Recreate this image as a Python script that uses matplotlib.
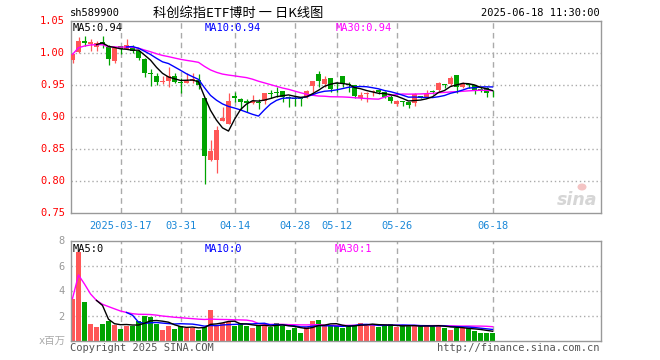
import numpy as np
import pandas as pd
import matplotlib
matplotlib.use('Agg')
import matplotlib.pyplot as plt
from matplotlib.patches import Ellipse

plt.rcParams['lines.scale_dashes'] = False

# ---------------- data ----------------
tick_idx = [8, 18, 27, 37, 44, 54, 70]
tick_labels = ['2025-03-17', '03-31', '04-14', '04-28', '05-12', '05-26', '06-18']

opens = [0.989, 1.001, 1.018, 1.014, 1.008, 1.0165, 1.009, 0.986, 1.010, 1.0056,
         1.0066, 1.002, 0.990, 0.9686, 0.9634, 0.9546, 0.9561, 0.9634, 0.9546, 0.953,
         0.9561, 0.9572, 0.9285, 0.8321, 0.8321, 0.8931, 0.8884, 0.9321, 0.928, 0.9243,
         0.9207, 0.9233, 0.9243, 0.9374, 0.9384, 0.940, 0.9311, 0.9285, 0.9285, 0.9311,
         0.9478, 0.9665, 0.9504, 0.9598, 0.952, 0.9634, 0.9504, 0.9493, 0.9285, 0.9353,
         0.9384, 0.9415, 0.9389, 0.9311, 0.9196, 0.9249, 0.9222, 0.9207, 0.9327, 0.9285,
         0.9389, 0.9415, 0.951, 0.9504, 0.965, 0.9467, 0.9499, 0.9493, 0.9426, 0.9441,
         0.9374]
highs = [0.999, 1.025, 1.026, 1.021, 1.018, 1.0264, 1.012, 1.008, 1.010, 1.021,
         1.011, 1.004, 0.991, 0.974, 0.9686, 0.9634, 0.977, 0.9686, 0.960, 0.9686,
         0.9686, 0.9665, 0.9285, 0.8634, 0.8853, 0.9155, 0.9374, 0.9389, 0.9295, 0.928,
         0.9337, 0.928, 0.9374, 0.9415, 0.9457, 0.940, 0.9321, 0.9321, 0.9285, 0.9415,
         0.9556, 0.9712, 0.9634, 0.9598, 0.9546, 0.9634, 0.9546, 0.9493, 0.9389, 0.9389,
         0.9415, 0.9426, 0.940, 0.9337, 0.9259, 0.9249, 0.9233, 0.9363, 0.9327, 0.9415,
         0.9415, 0.9535, 0.951, 0.964, 0.965, 0.9535, 0.951, 0.9493, 0.9457, 0.9457,
         0.9415]
lows = [0.984, 1.000, 1.010, 1.003, 1.003, 1.0066, 0.981, 0.984, 0.997, 1.0056,
        0.999, 0.988, 0.962, 0.948, 0.949, 0.951, 0.9467, 0.953, 0.9374, 0.952,
        0.953, 0.9426, 0.7946, 0.8306, 0.8123, 0.8931, 0.8884, 0.9233, 0.9103, 0.9077,
        0.9196, 0.9113, 0.9196, 0.9285, 0.9311, 0.9233, 0.9155, 0.9165, 0.9165, 0.9285,
        0.9389, 0.9467, 0.9467, 0.9389, 0.9389, 0.9467, 0.9389, 0.9295, 0.9259, 0.9233,
        0.9327, 0.9347, 0.9285, 0.9207, 0.9165, 0.9165, 0.9139, 0.9165, 0.9285, 0.9285,
        0.9347, 0.9379, 0.9452, 0.9478, 0.9374, 0.9452, 0.9441, 0.9347, 0.9389, 0.9311,
        0.9311]
closes = [0.997, 1.018, 1.0155, 1.0165, 1.0145, 1.011, 0.9905, 1.007, 1.0056, 1.011,
          1.003, 0.992, 0.9686, 0.966, 0.9546, 0.9561, 0.9634, 0.9546, 0.953, 0.9561,
          0.9582, 0.9493, 0.8384, 0.8462, 0.879, 0.8983, 0.9243, 0.9295, 0.9233, 0.9217,
          0.9243, 0.9217, 0.9374, 0.9353, 0.9363, 0.9311, 0.9285, 0.9269, 0.9269, 0.940,
          0.9556, 0.9556, 0.9582, 0.9426, 0.9504, 0.951, 0.9493, 0.9327, 0.9337, 0.9363,
          0.940, 0.9384, 0.9311, 0.9249, 0.9249, 0.9222, 0.918, 0.9347, 0.9285, 0.9347,
          0.9379, 0.952, 0.950, 0.9598, 0.9467, 0.9504, 0.9493, 0.9405, 0.9405, 0.9363,
          0.9363]
volumes = [3.36, 7.12, 3.07, 1.36, 1.12, 1.36, 1.6, 1.28, 0.96, 1.2,
           1.15, 1.6, 2.0, 1.92, 1.33, 0.88, 1.2, 0.96, 1.2, 1.01,
           1.01, 0.88, 1.07, 2.48, 1.2, 1.41, 1.47, 1.15, 1.44, 1.15,
           1.04, 1.2, 1.28, 1.12, 1.44, 1.2, 0.88, 0.99, 0.64, 1.07,
           1.6, 1.68, 1.15, 1.15, 1.15, 0.99, 1.28, 1.28, 1.44, 1.2,
           1.36, 1.07, 1.17, 1.36, 1.07, 1.17, 1.15, 1.2, 1.15, 1.15,
           1.15, 1.28, 0.99, 0.88, 0.99, 0.99, 0.99, 0.8, 0.64, 0.64,
           0.64]

price_ticks = [0.75, 0.80, 0.85, 0.90, 0.95, 1.00, 1.05]
vol_ticks = [2, 4, 6, 8]

# ---------------- styling ----------------
RED = '#FF5656'
GREEN = '#00A300'
GRID = '#AAAAAA'
FRAME = '#999999'
MONO = ['DejaVu Sans Mono', 'Noto Sans CJK SC']
CJK = ['Noto Sans CJK SC', 'DejaVu Sans']

W, H = 660, 360
fig = plt.figure(figsize=(W / 100, H / 100), dpi=100)
fig.patch.set_facecolor('white')


def ax_px(l, t, r, b):
    return fig.add_axes([l / W, 1 - b / H, (r - l) / W, (b - t) / H])


L, R = 70.5, 600.5
axp = ax_px(L, 20.5, R, 212.5)
axv = ax_px(L, 240.5, R, 340.5)

x = np.arange(len(closes))
o = np.array(opens); c = np.array(closes)
h = np.array(highs); lo = np.array(lows)
v = np.array(volumes)
up = c >= o
cols = [RED if u else GREEN for u in up]

xl = ((L - 72.5) / 6, (R - 72.5) / 6)

for ax in (axp, axv):
    ax.set_xlim(*xl)
    for s in ax.spines.values():
        s.set_color(FRAME)
        s.set_linewidth(1.0)
    ax.tick_params(length=0)
    for t in tick_idx:
        ax.axvline(t, color=GRID, lw=1.0, dashes=(4, 3), zorder=0)

# price panel
axp.set_ylim(0.75, 1.05)
for yv in price_ticks[1:-1]:
    axp.axhline(yv, color=GRID, lw=1.0, dashes=(1, 2), zorder=0)

axp.vlines(x, lo, h, colors=cols, lw=0.9, zorder=2)
bh = np.maximum(np.abs(c - o), 0.0012)
axp.bar(x, bh, bottom=np.minimum(o, c), width=0.82, color=cols, lw=0, zorder=3)

cs = pd.Series(c)
ma5 = cs.rolling(5).mean()
ma10 = cs.rolling(10).mean()
ma30 = cs.rolling(30, min_periods=1).mean()
axp.plot(x, ma30, color='#FF00FF', lw=1.0, zorder=4)
axp.plot(x, ma10, color='#0000FF', lw=1.0, zorder=4)
axp.plot(x, ma5, color='black', lw=1.0, zorder=4)

axp.set_yticks(price_ticks)
axp.set_yticklabels(['%.2f' % t for t in price_ticks], color='#FF0000',
                    family=MONO, fontsize=7.5)
axp.tick_params(axis='y', pad=4)
axp.set_xticks(tick_idx)
axp.set_xticklabels(tick_labels, color='#1A88D8', family=MONO, fontsize=7.5)
axp.tick_params(axis='x', pad=6)

axp.text(0.004, 0.985, 'MA5:0.94', transform=axp.transAxes, color='black',
         family=MONO, fontsize=7.5, va='top', ha='left')
axp.text((205 - L) / (R - L), 0.985, 'MA10:0.94', transform=axp.transAxes,
         color='#0000FF', family=MONO, fontsize=7.5, va='top', ha='left')
axp.text((336 - L) / (R - L), 0.985, 'MA30:0.94', transform=axp.transAxes,
         color='#FF00FF', family=MONO, fontsize=7.5, va='top', ha='left')

# sina watermark (text + small eye mark drawn as a patch)
fig.text(577 / W, 1 - 200 / H, 'sina', color='#D6D6D6', fontsize=12.5,
         fontweight='bold', style='italic', ha='center', va='center')
fig.patches.append(Ellipse((582 / W, 1 - 187 / H), 9 / W, 7 / H,
                           transform=fig.transFigure, facecolor='#F4C4C4',
                           edgecolor='none'))

# volume panel
axv.set_ylim(0, 8)
for yv in vol_ticks[:-1]:
    axv.axhline(yv, color=GRID, lw=1.0, dashes=(1, 2), zorder=0)
axv.bar(x, v, width=0.82, color=cols, lw=0, zorder=2)
vs = pd.Series(v)
axv.plot(x, vs.rolling(30, min_periods=1).mean(), color='#FF00FF', lw=1.0, zorder=4)
axv.plot(x, vs.rolling(10).mean(), color='#0000FF', lw=1.0, zorder=4)
axv.plot(x, vs.rolling(5).mean(), color='black', lw=1.0, zorder=4)
axv.set_yticks(vol_ticks)
axv.set_yticklabels([str(t) for t in vol_ticks], color='#999999', family=MONO,
                    fontsize=7.5)
axv.tick_params(axis='y', pad=4)
axv.set_xticks([])

axv.text(0.004, 0.97, 'MA5:0', transform=axv.transAxes, color='black',
         family=MONO, fontsize=7.5, va='top', ha='left')
axv.text((205 - L) / (R - L), 0.97, 'MA10:0', transform=axv.transAxes,
         color='#0000FF', family=MONO, fontsize=7.5, va='top', ha='left')
axv.text((335 - L) / (R - L), 0.97, 'MA30:1', transform=axv.transAxes,
         color='#FF00FF', family=MONO, fontsize=7.5, va='top', ha='left')

# header / footer texts
fig.text(70 / W, 1 - 13 / H, 'sh589900', family=MONO, fontsize=7.5,
         color='black', va='center', ha='left')
fig.text(238 / W, 1 - 13 / H, '科创综指ETF博时 一 日K线图', family=CJK,
         fontsize=9.5, color='black', va='center', ha='center')
fig.text(600 / W, 1 - 13 / H, '2025-06-18 11:30:00', family=MONO, fontsize=7.5,
         color='black', va='center', ha='right')
fig.text(66 / W, 1 - 341 / H, 'x百万', family=MONO, fontsize=7.5,
         color='#AAAAAA', va='center', ha='right')
fig.text(70 / W, 1 - 348 / H, 'Copyright 2025 SINA.COM', family=MONO,
         fontsize=7.5, color='#555555', va='center', ha='left')
fig.text(600 / W, 1 - 348 / H, 'http://finance.sina.com.cn', family=MONO,
         fontsize=7.5, color='#555555', va='center', ha='right')

fig.savefig('out.png', dpi=100, facecolor='white')
